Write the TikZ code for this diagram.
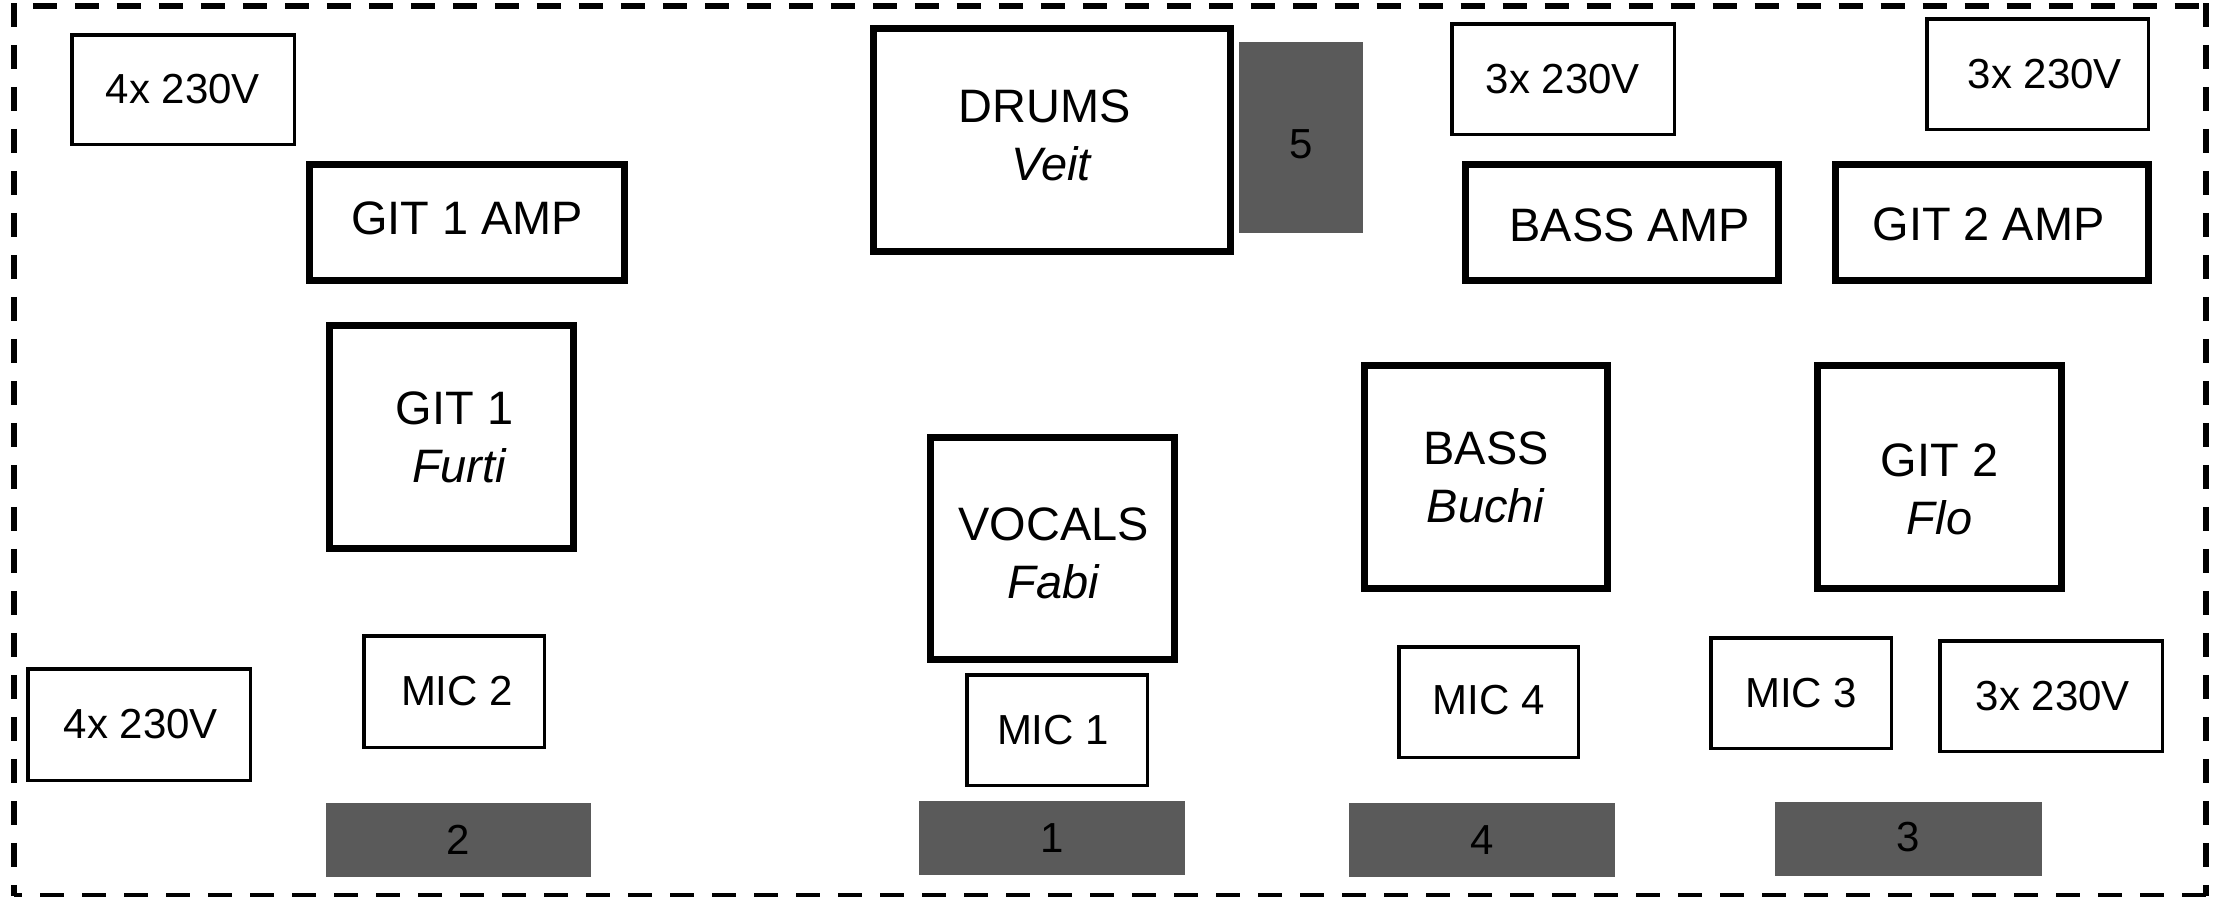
\documentclass[tikz,border=0pt]{standalone}
\usepackage{fontspec}
\setmainfont{Liberation Sans}
\definecolor{stagegray}{RGB}{90,90,90}
\newcommand\bigtxt{\fontsize{26.7}{33}\selectfont}
\newcommand\smalltxt{\fontsize{23.9}{29}\selectfont}
% name, kind (thick/thin/gray), line width in px, x1, y1, x2, y2, text offset (dx,dy) in px, text
\newcommand\stagebox[9]{%
  \node[#2box, minimum width={(#6-#4-#3)*0.02cm}, minimum height={(#7-#5-#3)*0.02cm}]
    (#1) at ({(#4+#6)/2},{(#5+#7)/2}) {};
  \node[#2txt] (#1-text) at ([shift={#8}]#1.center) {#9};}
\tikzset{
  thickbox/.style={draw=black, line width=0.14cm, inner sep=0pt},
  thinbox/.style={draw=black, line width=0.07cm, inner sep=0pt},
  graybox/.style={fill=stagegray, draw=none, inner sep=0pt},
  thicktxt/.style={inner sep=0pt, align=center, font=\bigtxt},
  thintxt/.style={inner sep=0pt, align=center, font=\smalltxt},
  graytxt/.style={inner sep=0pt, align=center, font=\smalltxt},
  border/.style={line width=0.12cm, dash pattern=on 0.48cm off 0.36cm}
}
\begin{document}
\begin{tikzpicture}[x=0.02cm, y=-0.02cm]
\useasboundingbox (0,0) rectangle (2221,896);
% dashed stage outline, each side from its own corner
\coordinate (tl) at (14,3);
\coordinate (tr) at (2206,3);
\coordinate (bl) at (14,896);
\coordinate (br) at (2206,896);
\coordinate (tla) at (14,5.5);
\coordinate (tra) at (2206,5.5);
\draw[border, dash phase=0.46cm] (tla) -- (tra);
\draw[border] (tl) -- (bl);
\draw[border] (tr) -- (br);
\draw[border] (br) -- (bl);
% left side
\stagebox{pwrA}{thin}{3.5}{70}{33}{296}{146}{(0,0)}{4x 230V}
\stagebox{gitAamp}{thick}{7}{306}{161}{628}{284}{(0,-4)}{GIT 1 AMP}
\stagebox{gitA}{thick}{7}{326}{322}{577}{552}{(3,0)}{GIT 1\\\kern0.2cm\textit{Furti}}
\stagebox{pwrB}{thin}{3.5}{26}{667}{252}{782}{(2,0)}{4x 230V}
\stagebox{micB}{thin}{3.5}{362}{634}{546}{749}{(3,0)}{MIC 2}
\stagebox{monB}{gray}{0}{326}{803}{591}{877}{(0,0)}{2}
% centre
\stagebox{drums}{thick}{7}{870}{25}{1234}{255}{(0,-4.5)}{DRUMS\kern0.3cm\\\textit{Veit}}
\stagebox{monE}{gray}{0}{1239}{42}{1363}{233}{(0,7)}{5}
\stagebox{vocals}{thick}{7}{927}{434}{1178}{663}{(1,5)}{VOCALS\\\textit{Fabi}}
\stagebox{micA}{thin}{3.5}{965}{673}{1149}{787}{(-4,0)}{MIC 1}
\stagebox{monA}{gray}{0}{919}{801}{1185}{875}{(0,0)}{1}
% bass
\stagebox{pwrC}{thin}{3.5}{1450}{22}{1676}{136}{(0,0)}{3x 230V}
\stagebox{bassamp}{thick}{7}{1462}{161}{1782}{284}{(7.5,3)}{BASS AMP}
\stagebox{bass}{thick}{7}{1361}{362}{1611}{592}{(0,0)}{BASS\\\textit{Buchi}}
\stagebox{micD}{thin}{3.5}{1397}{645}{1580}{759}{(0,-2)}{MIC 4}
\stagebox{monD}{gray}{0}{1349}{803}{1615}{877}{(0,0)}{4}
% right side
\stagebox{pwrD}{thin}{3.5}{1925}{17}{2150}{131}{(7.5,0)}{3x 230V}
\stagebox{gitBamp}{thick}{7}{1832}{161}{2152}{284}{(-3.5,2)}{GIT 2 AMP}
\stagebox{gitB}{thick}{7}{1814}{362}{2065}{592}{(0,12)}{GIT 2\\\textit{Flo}}
\stagebox{micC}{thin}{3.5}{1709}{636}{1893}{750}{(0,0)}{MIC 3}
\stagebox{pwrE}{thin}{3.5}{1938}{639}{2164}{753}{(2,0)}{3x 230V}
\stagebox{monC}{gray}{0}{1775}{802}{2042}{876}{(0,-2)}{3}
\end{tikzpicture}
\end{document}
